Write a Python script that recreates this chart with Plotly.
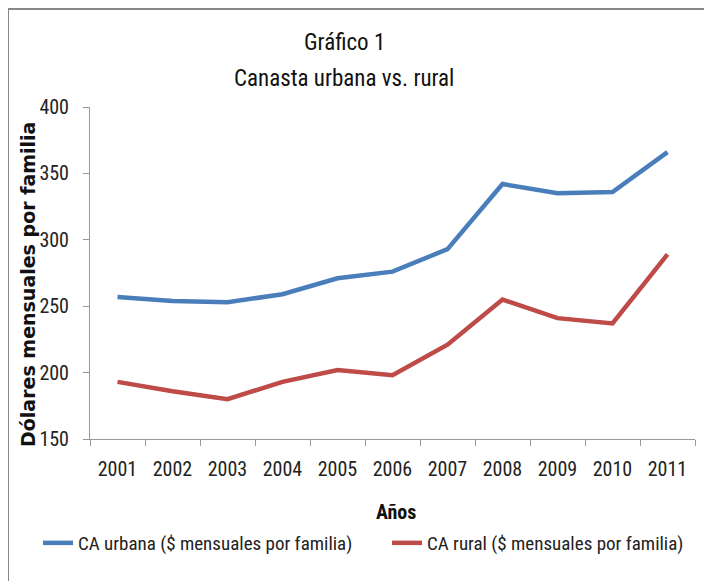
import plotly.graph_objects as go

years = ["2001", "2002", "2003", "2004", "2005", "2006", "2007", "2008", "2009", "2010", "2011"]
ca_urbana = [257, 254, 253, 259, 271, 276, 293, 342, 335, 336, 366]
ca_rural = [193, 186, 180, 193, 202, 198, 221, 255, 241, 237, 289]

narrow = "Liberation Sans Narrow, Roboto Condensed, Arial Narrow, sans-serif"

# figure sits 8px in from the page edge (body margin), so sizes are reduced by 8
W, H = 704, 573
L, T, PW, PH = 82, 99, 605, 332


def px(x):
    return (x - L) / PW


def py(y):
    return (T + PH - y) / PH


fig = go.Figure()

fig.add_trace(go.Scatter(
    x=years, y=ca_urbana, mode="lines",
    name="CA urbana ($ mensuales por familia)",
    line=dict(color="#4a7ebb", width=4.5),
    legend="legend",
))
fig.add_trace(go.Scatter(
    x=years, y=ca_rural, mode="lines",
    name="CA rural ($ mensuales por familia)",
    line=dict(color="#be4b48", width=4.5),
    legend="legend2",
))

legend_font = dict(family=narrow, size=19, color="#222")

fig.update_layout(
    width=W, height=H,
    margin=dict(l=L, r=W - L - PW, t=T, b=H - T - PH),
    paper_bgcolor="white", plot_bgcolor="white",
    font=dict(family=narrow, size=18, color="#222"),
    showlegend=True,
    legend=dict(orientation="h", x=px(30), xanchor="left", y=py(535), yanchor="middle",
                font=legend_font, bgcolor="rgba(0,0,0,0)"),
    legend2=dict(orientation="h", x=px(379), xanchor="left", y=py(535), yanchor="middle",
                 font=legend_font, bgcolor="rgba(0,0,0,0)"),
    annotations=[
        dict(text="Gráfico 1", x=px(336), y=py(34), xref="paper", yref="paper",
             xanchor="center", yanchor="middle", showarrow=False,
             font=dict(family=narrow, size=23, color="#111")),
        dict(text="Canasta urbana vs. rural", x=px(336), y=py(70), xref="paper", yref="paper",
             xanchor="center", yanchor="middle", showarrow=False,
             font=dict(family=narrow, size=23, color="#111")),
        dict(text="<b>Años</b>", x=px(388), y=py(504), xref="paper", yref="paper",
             xanchor="center", yanchor="middle", showarrow=False,
             font=dict(family=narrow, size=20, color="#111")),
        dict(text="<b>Dólares mensuales por familia</b>", x=px(20), y=py(277),
             xref="paper", yref="paper", xanchor="center", yanchor="middle",
             textangle=-90, showarrow=False,
             font=dict(family="DejaVu Sans", size=19, color="#111")),
    ],
    shapes=[
        dict(type="line", xref="paper", yref="paper", x0=px(0), x1=px(W + 10),
             y0=py(1), y1=py(1), line=dict(color="#888", width=2)),
        dict(type="line", xref="paper", yref="paper", x0=px(0), x1=px(0),
             y0=py(1), y1=py(H + 10), line=dict(color="#888", width=2)),
    ],
)

fig.update_xaxes(
    type="category", range=[-0.5, len(years) - 0.5],
    showline=True, linecolor="#999", linewidth=1,
    ticks="outside", tickson="boundaries", ticklen=6, tickcolor="#999",
    showgrid=False, ticklabelstandoff=12,
    tickfont=dict(family=narrow, size=20, color="#222"),
)
fig.update_yaxes(
    range=[150, 400], dtick=50, showline=True, linecolor="#999", linewidth=1,
    ticks="outside", ticklen=6, tickcolor="#999", showgrid=False, zeroline=False,
    ticklabelstandoff=10,
    tickfont=dict(family=narrow, size=20, color="#222"),
)

fig.write_html("out.html")
